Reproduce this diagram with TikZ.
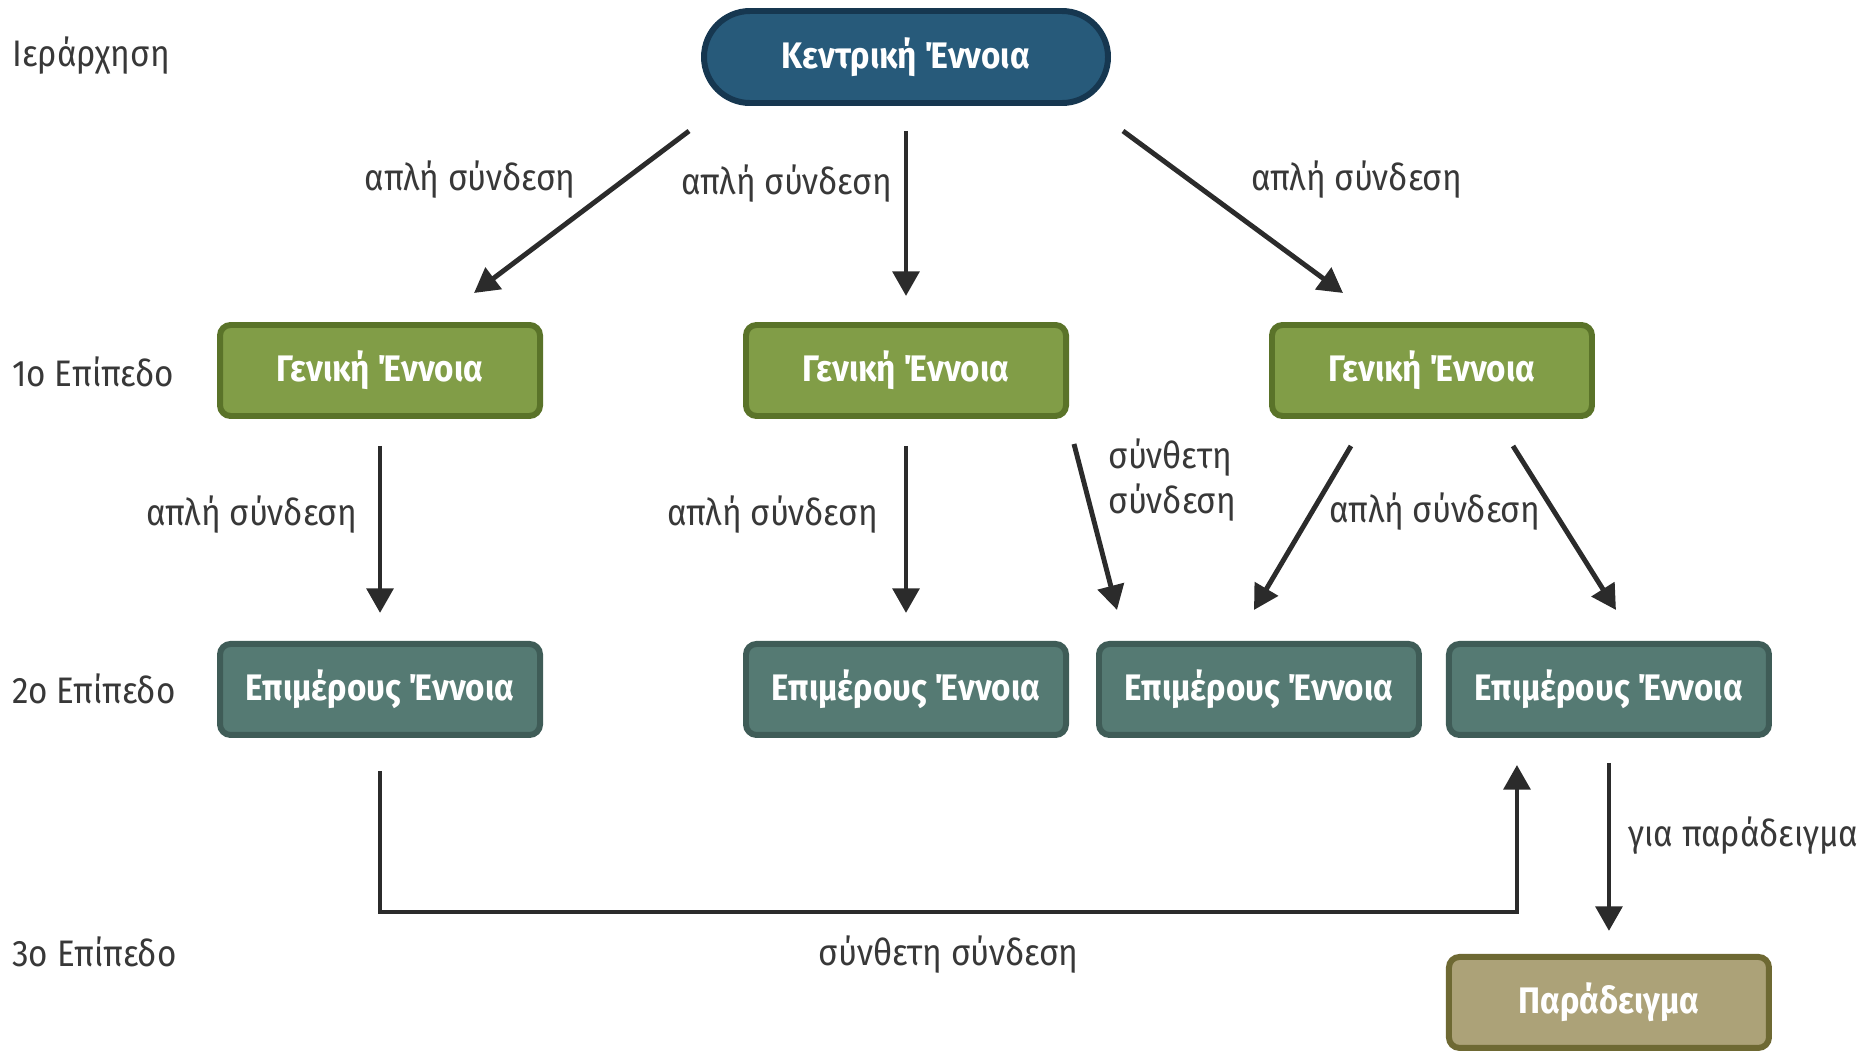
\documentclass[tikz,border=0pt]{standalone}
\usepackage{fontspec}
\setmainfont[FakeStretch=0.9]{Fira Sans}
\usetikzlibrary{arrows.meta, positioning}
\definecolor{centralblue}{HTML}{275A7A}
\definecolor{centralline}{HTML}{163750}
\definecolor{generalgreen}{HTML}{819D47}
\definecolor{generalline}{HTML}{5A7329}
\definecolor{partteal}{HTML}{557A73}
\definecolor{partline}{HTML}{3F5C57}
\definecolor{exampleolive}{HTML}{ACA278}
\definecolor{exampleline}{HTML}{6E6933}
\definecolor{linkgray}{HTML}{2B2B2B}
\definecolor{labelgray}{HTML}{383838}

\begin{document}
\begin{tikzpicture}[
        concept/.style={rectangle, draw, line width=1.7pt, rounded corners=3pt, align=center, minimum width=3.2cm, minimum height=0.91cm, text=white, font=\fontsize{10.5}{12.6}\selectfont\bfseries},
        central/.style={concept, rounded corners=0.46cm, minimum width=4.04cm, minimum height=0.92cm, fill=centralblue, draw=centralline},
        general/.style={concept, fill=generalgreen, draw=generalline},
        part/.style={concept, fill=partteal, draw=partline},
        example/.style={concept, fill=exampleolive, draw=exampleline},
        level/.style={anchor=west, text=labelgray, font=\fontsize{10.5}{12.6}\selectfont},
        tag/.style={text=labelgray, font=\fontsize{10.5}{12.8}\selectfont, align=left},
        link/.style={draw=linkgray, line width=1.4pt, -{Triangle[length=7pt, width=7.5pt]}},
        node distance=2.16cm and 2.0cm
        ]

        \useasboundingbox (0,0) rectangle (18.68,-10.50);

        % Nodes
        \node (central) [central] at (9.06,-0.57) {Κεντρική Έννοια};
        \node (gen2) [general, below=of central] {Γενική Έννοια};
        \node (gen1) [general, left=of gen2] {Γενική Έννοια};
        \node (gen3) [general, right=of gen2] {Γενική Έννοια};
        \node (epi1) [part, below=2.22cm of gen1] {Επιμέρους Έννοια};
        \node (epi2) [part, below=2.22cm of gen2] {Επιμέρους Έννοια};
        \node (epi3) [part, right=0.27cm of epi2] {Επιμέρους Έννοια};
        \node (epi4) [part, right=0.24cm of epi3] {Επιμέρους Έννοια};
        \node (example1) [example, below=2.16cm of epi4] {Παράδειγμα};

        % Levels
        \node (lev0) [level] at (0,-0.56) {Ιεράρχηση};
        \node (lev1) [level] at (0,-3.72) {1ο Επίπεδο};
        \node (lev2) [level] at (0,-6.89) {2ο Επίπεδο};
        \node (lev3) [level] at (0,-9.52) {3ο Επίπεδο};

        % Arrows with labels
        \draw [link] ([xshift=-0.12cm, yshift=-0.25cm]central.south west) -- node[tag, pos=0.3, left=0.35cm] {απλή σύνδεση} ([xshift=0.94cm, yshift=0.29cm]gen1.north);
        \draw [link, shorten <=0.25cm, shorten >=0.26cm] (central) -- node[tag, pos=0.36, left] {απλή σύνδεση} (gen2);
        \draw [link] ([xshift=0.12cm, yshift=-0.25cm]central.south east) -- node[tag, pos=0.3, right=0.48cm] {απλή σύνδεση} ([xshift=-0.89cm, yshift=0.29cm]gen3.north);

        \draw [link, shorten <=0.27cm, shorten >=0.28cm] (gen1) -- node[tag, pos=0.43, left=0.09cm] {απλή σύνδεση} (epi1);
        \draw [link, shorten <=0.27cm, shorten >=0.28cm] (gen2) -- node[tag, pos=0.43, left=0.14cm] {απλή σύνδεση} (epi2);
        \draw [link] ([xshift=0.05cm, yshift=-0.25cm]gen2.south east) -- node[tag, pos=0.22, right=0.11cm] {σύνθετη\\σύνδεση} ([xshift=0.21cm, yshift=0.31cm]epi3.north west);
        \draw [link] ([xshift=-0.81cm, yshift=-0.27cm]gen3.south) -- ([xshift=-0.05cm, yshift=0.31cm]epi3.north);
        \draw [link] ([xshift=0.81cm, yshift=-0.27cm]gen3.south) -- node[tag, pos=0.4, left] {απλή σύνδεση} ([xshift=0.07cm, yshift=0.31cm]epi4.north);

        \draw [link, shorten <=0.33cm] (epi1.south) |- node[tag, pos=0.75, below=0.1cm] {σύνθετη σύνδεση} ([xshift=-0.92cm, yshift=-1.74cm]epi4.south) -- ([xshift=-0.92cm, yshift=-0.27cm]epi4.south);
        \draw [link, shorten <=0.25cm, shorten >=0.23cm] (epi4) -- node[tag, pos=0.45, right=0.05cm] {για παράδειγμα} (example1);

    \end{tikzpicture}
\end{document}
